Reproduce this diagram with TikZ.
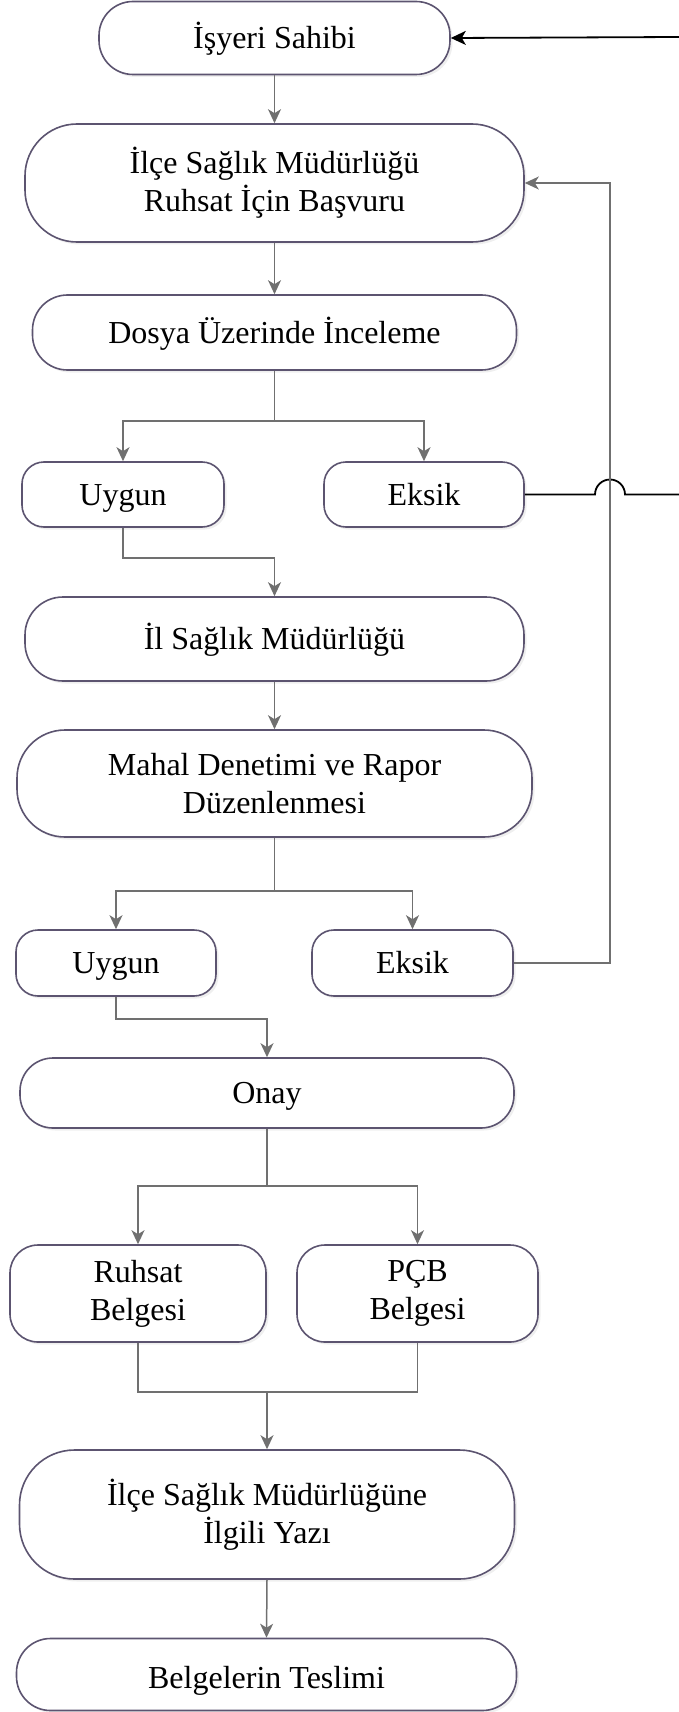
\documentclass[tikz,border=0pt]{standalone}
\usepackage{fontspec}
\setmainfont{Liberation Serif}
\usetikzlibrary{arrows.meta,shadows}
\definecolor{boxline}{RGB}{92,84,112}
\definecolor{conn}{RGB}{112,112,112}

\begin{document}
\begin{tikzpicture}[x=1pt,y=-1pt,
  stage/.style={draw=boxline, line width=1.6pt, fill=white, align=center,
    inner sep=0pt, font=\fontsize{32}{38}\selectfont,
    drop shadow={opacity=0.18, fill=black!35, shadow xshift=2.5pt, shadow yshift=-2.5pt}},
  oneline/.style={text height=21pt, text depth=0pt},
  flowline/.style={draw=conn, line width=1.5pt},
  flow/.style={flowline, -{Stealth[length=14pt,width=13pt,inset=4pt]}},
  outline/.style={draw=black, line width=1.8pt},
  outflow/.style={outline, -{Stealth[length=15pt,width=14pt,inset=4pt]}}
]
\useasboundingbox (0,0) rectangle (679,1712);

% process stages
\node[stage, oneline, minimum width=351pt, minimum height=73pt, rounded corners=34pt] (own) at (274.5,38) {İşyeri Sahibi};
\node[stage, minimum width=499pt, minimum height=118pt, rounded corners=52pt] (ilce) at (274.5,183) {İlçe Sağlık Müdürlüğü\\Ruhsat İçin Başvuru};
\node[stage, oneline, minimum width=484pt, minimum height=75pt, rounded corners=35pt] (dosya) at (274.5,332.5) {Dosya Üzerinde İnceleme};
\node[stage, oneline, minimum width=202pt, minimum height=65pt, rounded corners=22pt] (uy1) at (123,494.5) {Uygun};
\node[stage, oneline, minimum width=200pt, minimum height=65pt, rounded corners=22pt] (ek1) at (424,494.5) {Eksik};
\node[stage, oneline, minimum width=499pt, minimum height=84pt, rounded corners=38pt] (il) at (274.5,639) {İl Sağlık Müdürlüğü};
\node[stage, minimum width=515pt, minimum height=107pt, rounded corners=48pt] (mahal) at (274.5,783.5) {Mahal Denetimi ve Rapor\\Düzenlenmesi};
\node[stage, oneline, minimum width=200pt, minimum height=66pt, rounded corners=22pt] (uy2) at (116,963) {Uygun};
\node[stage, oneline, minimum width=201pt, minimum height=66pt, rounded corners=22pt] (ek2) at (412.5,963) {Eksik};
\node[stage, oneline, minimum width=494pt, minimum height=70pt, rounded corners=33pt] (onay) at (267,1093) {Onay};
\node[stage, minimum width=256pt, minimum height=97pt, rounded corners=28pt] (ruhsat) at (138,1293.5) {Ruhsat\\Belgesi};
\node[stage, minimum width=241pt, minimum height=97pt, rounded corners=28pt] (pcb) at (417.5,1293.5) {PÇB\\Belgesi};
\node[stage, minimum width=495pt, minimum height=129pt, rounded corners=55pt] (yazi) at (267,1514.5) {İlçe Sağlık Müdürlüğüne\\İlgili Yazı};
\node[stage, text height=27pt, text depth=0pt, minimum width=500pt, minimum height=72pt, rounded corners=34pt] (teslim) at (266.5,1674.5) {Belgelerin Teslimi};

% junction points
\coordinate (in0) at (679,37);
\coordinate (out1) at (679,494.5);
\coordinate (hop) at (595,494.5);
\coordinate (b1) at (274.5,421);
\coordinate (j1) at (274.5,558);
\coordinate (b2) at (274.5,891);
\coordinate (r1) at (610,963);
\coordinate (r2) at (610,183);
\coordinate (j2) at (267,1019);
\coordinate (b3) at (267,1186);
\coordinate (m) at (267,1392);

% incoming and outgoing black lines
\draw[outflow] (in0) -- (own.east);
\draw[outline] (ek1.east) -- (hop) arc[start angle=180, end angle=360, radius=15] -- (out1);

% main flow
\draw[flow] (own.south) -- (ilce.north);
\draw[flow] (ilce.south) -- (dosya.north);
\draw[flowline] (dosya.south) -- (b1);
\draw[flow] (b1) -| (uy1.north);
\draw[flow] (b1) -| (ek1.north);
\draw[flow] (uy1.south) |- (j1) -- (il.north);
\draw[flow] (il.south) -- (mahal.north);
\draw[flowline] (mahal.south) -- (b2);
\draw[flow] (b2) -| (uy2.north);
\draw[flow] (b2) -| (ek2.north);
\draw[flow] (ek2.east) -- (r1) -- (r2) -- (ilce.east);
\draw[flow] (uy2.south) |- (j2) -- (onay.north);
\draw[flowline] (onay.south) -- (b3);
\draw[flow] (b3) -| (ruhsat.north);
\draw[flow] (b3) -| (pcb.north);
\draw[flowline] (ruhsat.south) |- (m);
\draw[flowline] (pcb.south) |- (m);
\draw[flow] (m) -- (yazi.north);
\draw[flow] (yazi.south) -- (teslim.north);
\end{tikzpicture}
\end{document}
